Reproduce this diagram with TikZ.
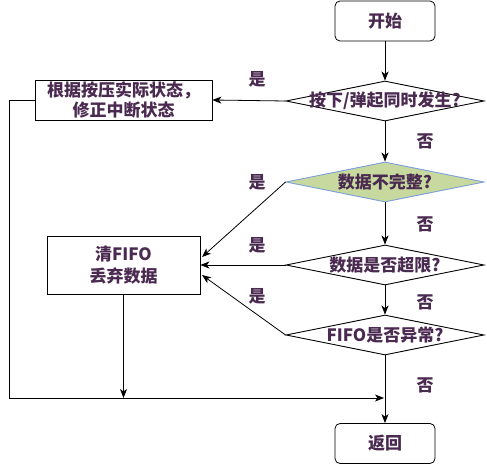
\documentclass[tikz,border=0pt]{standalone}
\usepackage{fontspec}
\newfontfamily\cjk{Noto Sans CJK SC}
\usetikzlibrary{shapes.geometric,arrows.meta}
\definecolor{ink}{HTML}{4A2A50}
\definecolor{olive}{HTML}{C8D9A0}
\definecolor{edgeblue}{HTML}{7A9FD8}
\newcommand{\nowidth}[1]{\makebox[0pt]{#1}}
\tikzset{
  every node/.style={font=\cjk\bfseries\fontsize{17}{21.5}\selectfont, text=ink},
  term/.style={draw, rounded corners=5pt, minimum width=100pt, minimum height=40pt, line width=0.8pt},
  proc/.style={draw, line width=0.8pt, align=center, inner sep=0pt},
  test/.style={draw, diamond, aspect=4.95, minimum width=198pt, minimum height=40pt, inner sep=0pt, line width=0.9pt},
  flow/.style={-{Stealth[length=9pt,width=7pt,inset=2.5pt]}, line width=0.8pt},
}
\begin{document}
\begin{tikzpicture}[x=1pt,y=-1pt]
				\useasboundingbox (0,0) rectangle (487,465);
				\node[term] (start) at (385,21) {开始};
				\node[test] (same) at (385,101) {\nowidth{按下/弹起同时发生?}};
				\node[test, fill=olive, draw=edgeblue] (part) at (385,182) {\nowidth{数据不完整?}};
				\node[test] (over) at (385,265) {\nowidth{数据是否超限?}};
				\node[test] (bad) at (385,335) {\nowidth{FIFO是否异常?}};
				\node[term] (ret) at (385,443.5) {返回};
				\node[proc, minimum width=177pt, minimum height=40pt] (fix) at (123.5,100) {根据按压实际状态，\\[-1.5pt]修正中断状态};
				\node[proc, minimum width=153pt, minimum height=58pt] (clr) at (123.5,265) {清FIFO\\丢弃数据};

				\coordinate (up) at (202,257);
				\coordinate (low) at (202,275);
				\coordinate (nw) at (9,100);
				\coordinate (sw) at (9,398);
				\coordinate (mid) at (123.5,398);
				\coordinate (join) at (385,398);

				\node (y1) at (257,79) {是};
				\node (y2) at (257,182) {是};
				\node (y3) at (257,245) {是};
				\node (y4) at (257,296) {是};
				\node (n1) at (425,141) {否};
				\node (n2) at (425,224) {否};
				\node (n3) at (425,302) {否};
				\node (n4) at (425,385) {否};

				\path [flow] (start) edge (same);
				\path [flow] (same) edge (part);
				\path [flow] (part) edge (over);
				\path [flow] (over) edge (bad);
				\path [flow] (bad) edge (ret);
				\path [flow] (same.west) edge (fix.east);
				\path [flow] (part.west) edge (up);
				\path [flow] (over.west) edge (clr.east);
				\path [flow] (bad.west) edge (low);
				\path [flow] (clr) edge (mid);
				\draw [flow] (fix.west) -- (nw) -- (sw) -- ([xshift=-1pt]join);
			\end{tikzpicture}
\end{document}
